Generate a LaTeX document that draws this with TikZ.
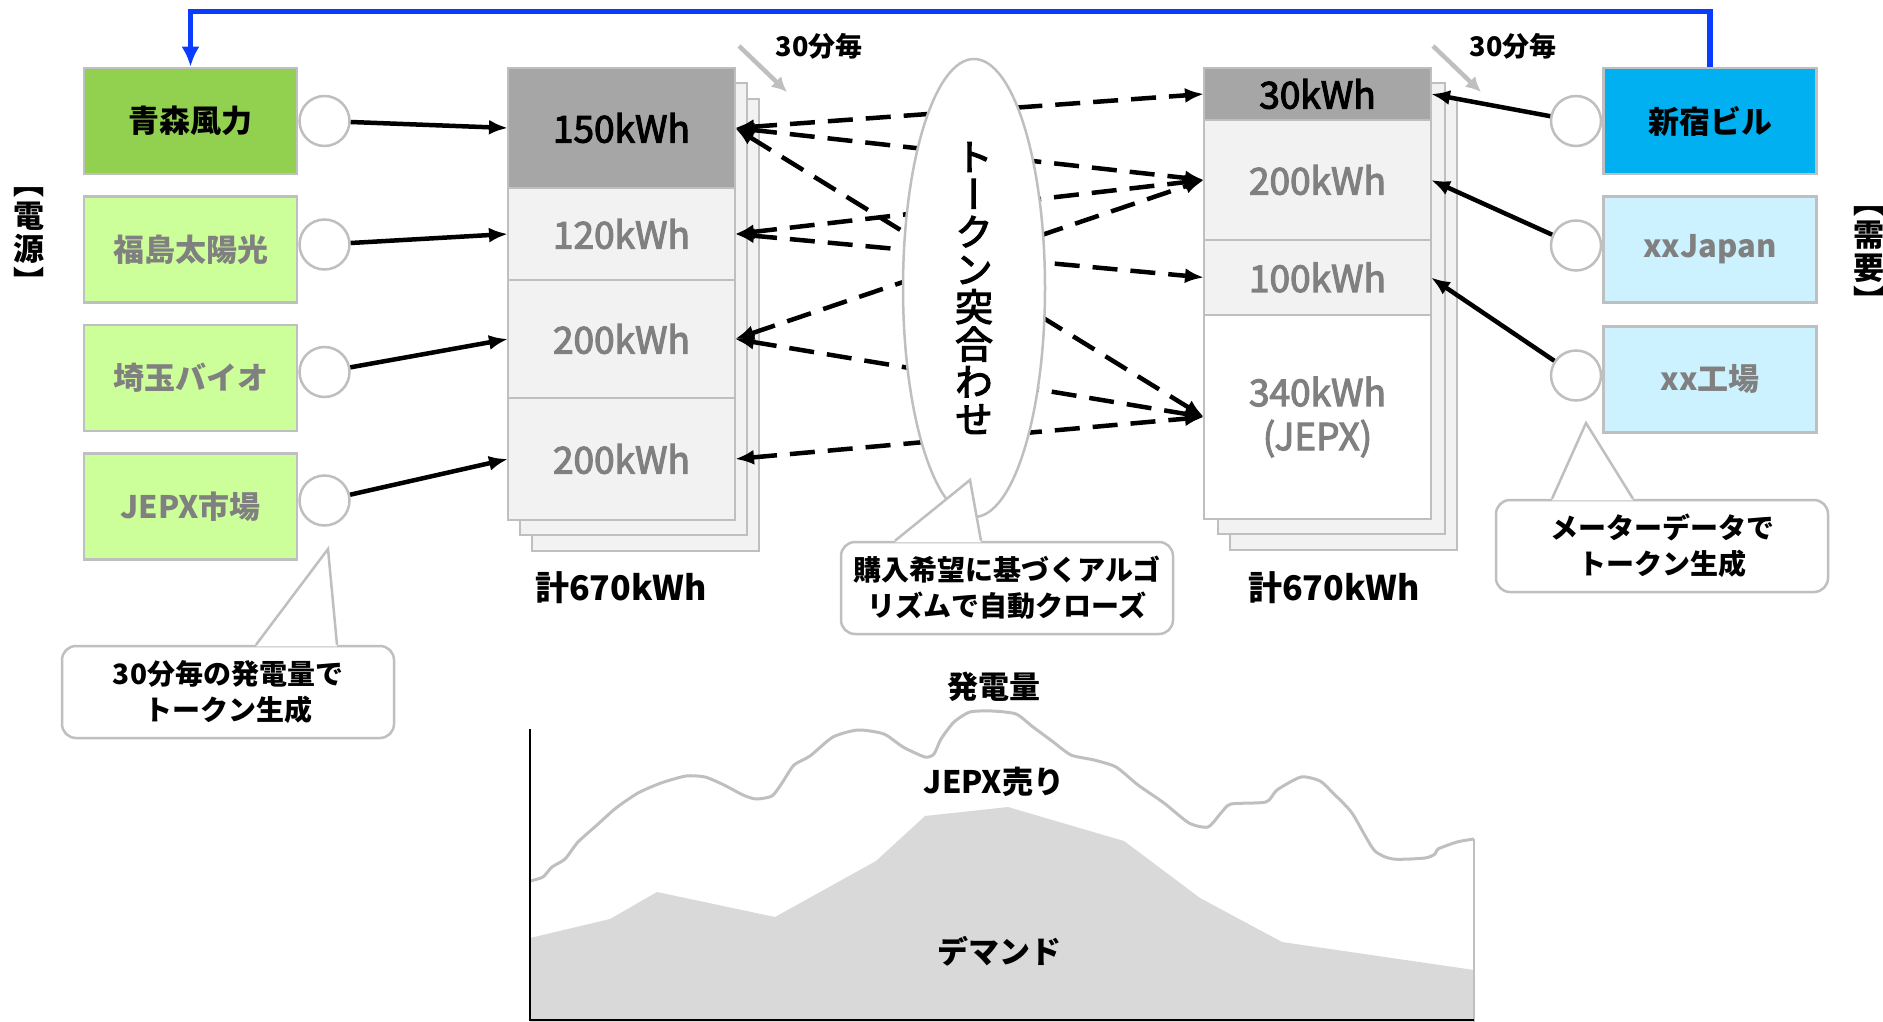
\documentclass[tikz,border=0pt]{standalone}
\usepackage{fontspec}
\setmainfont{Noto Sans CJK JP}
\newfontfamily\vertjp{Noto Sans CJK JP}[RawFeature=+vert]
\newfontfamily\medjp{Noto Sans CJK JP}[FakeBold=3]
\newfontfamily\vertmedjp{Noto Sans CJK JP}[RawFeature=+vert, FakeBold=3]
\usetikzlibrary{calc,arrows.meta,positioning,shapes.geometric}

\definecolor{boxgray}{HTML}{BFBFBF}
\definecolor{txtgray}{HTML}{808080}
\definecolor{celldark}{HTML}{A6A6A6}
\definecolor{celllight}{HTML}{F2F2F2}
\definecolor{windgreen}{HTML}{92D050}
\definecolor{srcgreen}{HTML}{CCFF99}
\definecolor{bldblue}{HTML}{00B0F0}
\definecolor{usrblue}{HTML}{CCF2FF}
\definecolor{linkblue}{HTML}{0A3CFF}
\definecolor{demandgray}{HTML}{D9D9D9}

\newcommand{\fsz}[2]{\fontsize{#1}{#2}\selectfont}

\begin{document}
\begin{tikzpicture}[x=1pt,y=-1pt]
		% Styles
		\tikzset{
			srcbox/.style={draw=boxgray, line width=2.5pt, fill=srcgreen, minimum width=213pt, minimum height=106pt, font=\fsz{31}{36}\bfseries, text=txtgray},
			usrbox/.style={srcbox, fill=usrblue},
			meter/.style={circle, draw=boxgray, line width=2.5pt, fill=white, minimum size=50pt, inner sep=0pt},
			cell/.style={draw=boxgray, line width=2.5pt, fill=celllight, minimum width=227pt, inner sep=0pt, outer sep=0pt, font=\medjp\fsz{37}{44}, text=txtgray},
			sheet/.style={draw=boxgray, line width=2.5pt, fill=celllight},
			total/.style={font=\fsz{34}{40}\bfseries},
			feed/.style={-{Latex[length=19pt,width=15pt]}, line width=4.5pt},
			trade/.style={{Latex[length=19pt,width=15pt]}-{Latex[length=19pt,width=15pt]}, line width=4.5pt, dash pattern=on 25pt off 13pt},
			tick/.style={-{Latex[length=15pt,width=15pt]}, draw=boxgray, line width=4.5pt},
			callout/.style={draw=boxgray, line width=2.5pt, fill=white, rounded corners=14pt, minimum width=332pt, minimum height=92pt, align=center, font=\fsz{28}{36}\bfseries},
			tail/.style={draw=boxgray, line width=2.5pt},
			chartlabel/.style={font=\fsz{31}{36}\bfseries}
		}
		\useasboundingbox (0,0) rectangle (1883,1022);

		% Stacks (sheets behind)
		\coordinate (lstack) at (508,68);
		\coordinate (rstack) at (1204,68);
		\draw[sheet] ($(lstack)+(24,31)$) rectangle ++(227,452);
		\draw[sheet] ($(lstack)+(12,15)$) rectangle ++(227,452);
		\draw[sheet] ($(rstack)+(26,31)$) rectangle ++(227,451);
		\draw[sheet] ($(rstack)+(14,15)$) rectangle ++(227,451);

		\node[cell, fill=celldark, text=black, minimum height=120pt, anchor=north west] (s1) at (lstack) {150kWh};
		\node[cell, minimum height=92pt, below=0pt of s1] (s2) {120kWh};
		\node[cell, minimum height=118pt, below=0pt of s2] (s3) {200kWh};
		\node[cell, minimum height=122pt, below=0pt of s3] (s4) {200kWh};

		\node[cell, fill=celldark, text=black, minimum height=52pt, anchor=north west] (r1) at (rstack) {30kWh};
		\node[cell, minimum height=120pt, below=0pt of r1] (r2) {200kWh};
		\node[cell, minimum height=75pt, below=0pt of r2] (r3) {100kWh};
		\node[cell, fill=white, minimum height=204pt, align=center, below=0pt of r3] (r4) {340kWh\\(JEPX)};

		\node[total] (ltotal) at (621,588) {計670kWh};
		\node[total] (rtotal) at (1334,588) {計670kWh};

		% Sources
		\node[srcbox, fill=windgreen, text=black] (aomori) at (190.5,121) {青森風力};
		\node[srcbox, below=20pt of aomori] (fukushima) {福島太陽光};
		\node[srcbox, below=20pt of fukushima] (saitama) {埼玉バイオ};
		\node[srcbox, below=20pt of saitama] (jepx) {JEPX市場};
		\node[meter, right=0pt of aomori] (m1) {};
		\node[meter, right=0pt of fukushima, yshift=5pt] (m2) {};
		\node[meter, right=0pt of saitama, yshift=6pt] (m3) {};
		\node[meter, right=0pt of jepx, yshift=6pt] (m4) {};
		\node[font=\vertjp\fsz{31}{33}\bfseries, align=center] (srclabel) at (29,241) {【\\電\\源\\】};

		% Users
		\node[srcbox, fill=bldblue, text=black] (shinjuku) at (1710,121) {新宿ビル};
		\node[usrbox, below=20pt of shinjuku] (xxjapan) {xxJapan};
		\node[usrbox, below=21.5pt of xxjapan] (xxfactory) {xx工場};
		\node[meter, left=0pt of shinjuku] (d1) {};
		\node[meter, left=0pt of xxjapan, yshift=4pt] (d2) {};
		\node[meter, left=0pt of xxfactory, yshift=4pt] (d3) {};
		\node[font=\vertjp\fsz{31}{33}\bfseries, align=center] (usrlabel) at (1869,260) {【\\需\\要\\】};

		% Token flow
		\draw[feed] (m1) -- (s1.west);
		\draw[feed] (m2) -- (s2.west);
		\draw[feed] (m3) -- (s3.west);
		\draw[feed] (m4) -- (s4.west);
		\draw[feed] (d1) -- (r1.east);
		\draw[feed] (d2) -- (r2.east);
		\draw[feed] (d3) -- (r3.east);

		% Matching
		\draw[trade] (s1.east) -- (r1.west);
		\draw[trade] (s1.east) -- (r2.west);
		\draw[trade] (s1.east) -- (r4.west);
		\draw[trade] (s2.east) -- (r2.west);
		\draw[trade] (s2.east) -- (r3.west);
		\draw[trade] (s3.east) -- (r2.west);
		\draw[trade] (s3.east) -- (r4.west);
		\draw[trade] (s4.east) -- (r4.west);
		\node[ellipse, draw=boxgray, line width=2.5pt, fill=white, minimum width=142pt, minimum height=458pt, inner sep=0pt, align=center, font=\vertmedjp\fsz{38}{37.5}] (match) at (974,288) {ト\\ー\\ク\\ン\\突\\合\\わ\\せ};

		% 30 minute ticks
		\node[font=\fsz{27}{30}\bfseries] (lhalf) at (819,46) {30分毎};
		\node[font=\fsz{27}{30}\bfseries] (rhalf) at (1513,46) {30分毎};
		\draw[tick] (739,46) -- (787,92);
		\draw[tick] (1433,46) -- (1481,92);

		% Settlement line
		\draw[linkblue, line width=5.5pt, -{Latex[length=20pt,width=18pt]}] (shinjuku.north) -- ++(0,-55) -| (aomori.north);

		% Callouts
		\node[callout] (gennote) at (228,692) {30分毎の発電量で\\トークン生成};
		\coordinate (gentip) at (328,549);
		\fill[white] ([xshift=28pt,yshift=-1.6pt]gennote.north) -- (gentip) -- ([xshift=109pt,yshift=-1.6pt]gennote.north) -- cycle;
		\draw[tail] ([xshift=28pt]gennote.north) -- (gentip) -- ([xshift=109pt]gennote.north);

		\node[callout] (algonote) at (1007,588) {購入希望に基づくアルゴ\\リズムで自動クローズ};
		\coordinate (algotip) at (970,480);
		\fill[white] ([xshift=-112pt,yshift=-1.6pt]algonote.north) -- (algotip) -- ([xshift=-26pt,yshift=-1.6pt]algonote.north) -- cycle;
		\draw[tail] ([xshift=-112pt]algonote.north) -- (algotip) -- ([xshift=-26pt]algonote.north);

		\node[callout] (meternote) at (1662,546) {メーターデータで\\トークン生成};
		\coordinate (metertip) at (1586,423);
		\fill[white] ([xshift=-110pt,yshift=-1.6pt]meternote.north) -- (metertip) -- ([xshift=-29pt,yshift=-1.6pt]meternote.north) -- cycle;
		\draw[tail] ([xshift=-110pt]meternote.north) -- (metertip) -- ([xshift=-29pt]meternote.north);

		% Chart
		\fill[demandgray] (530,938) -- (610,919) -- (657,892) -- (775,917) -- (876,861) -- (925,816) -- (1008,807) -- (1124,841) -- (1200,898) -- (1282,942) -- (1474,970) -- (1474,1022) -- (530,1022) -- cycle;
		\draw[boxgray, line width=3pt] plot[smooth, tension=0.4] coordinates {(530,881) (543,877) (552,867) (565,859) (578,842) (597,825) (616,808) (638,793) (661,783) (686,776) (705,777) (724,785) (743,795) (756,799) (772,796) (782,783) (794,765) (810,756) (833,737) (858,730) (884,734) (903,747) (925,757) (934,754) (941,739) (954,722) (970,712) (992,711) (1016,714) (1033,727) (1052,741) (1071,755) (1094,760) (1116,767) (1138,785) (1164,803) (1189,823) (1208,827) (1221,813) (1231,804) (1266,802) (1277,790) (1301,777) (1320,781) (1333,793) (1352,813) (1374,850) (1393,859) (1425,858) (1435,854) (1438,849) (1457,842) (1474,839)};
		\draw[boxgray, line width=2.5pt] (1474,839) -- (1474,1022);
		\draw[line width=2pt] (530,729) -- (530,1020) -- (1474,1020);
		\node[chartlabel] (genlabel) at (994,687) {発電量};
		\node[chartlabel] (selllabel) at (994,782) {JEPX売り};
		\node[chartlabel] (demandlabel) at (999,951) {デマンド};

	\end{tikzpicture}
\end{document}
